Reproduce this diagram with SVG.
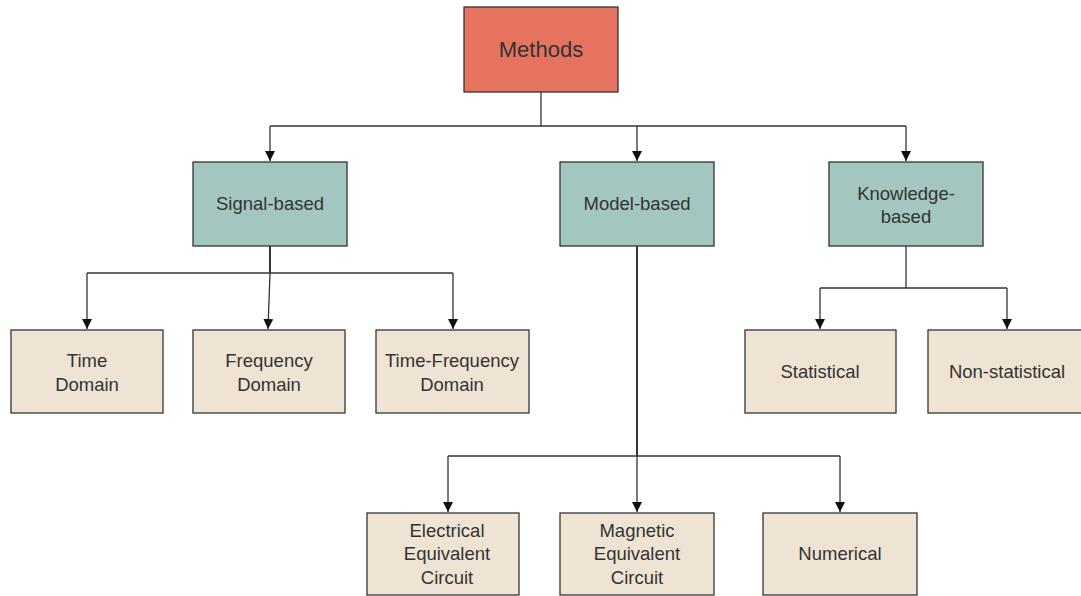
<svg xmlns="http://www.w3.org/2000/svg" width="1081" height="596" viewBox="0 0 1081 596">
  <style>
    .box { stroke: #333; stroke-width: 1.3; }
    .root { fill: #E5735F; }
    .mid { fill: #A3C7C0; }
    .leaf { fill: #EFE4D4; }
    .lbl { font-family: "Liberation Sans", Arial, sans-serif; font-size: 18.5px; fill: #333; text-anchor: middle; dominant-baseline: central; }
    .big { font-size: 22px; }
    .wire { fill: none; stroke: #333; stroke-width: 1.3; }
    .thick { stroke-width: 2; }
  </style>
  <defs>
    <marker id="arrow" viewBox="0 0 10 10" refX="10" refY="5" markerWidth="10" markerHeight="10" markerUnits="userSpaceOnUse" orient="auto">
      <path d="M0,0 L10,5 L0,10 Z" fill="#111"/>
    </marker>
  </defs>
  <rect width="1081" height="596" fill="#fff"/>

  <!-- connectors -->
  <g id="connectors">
    <polyline class="wire" points="541,92 541,126"/>
    <polyline class="wire" points="270,126 906,126"/>
    <polyline class="wire" points="270,126 270,161" marker-end="url(#arrow)"/>
    <polyline class="wire" points="637,126 637,161" marker-end="url(#arrow)"/>
    <polyline class="wire" points="906,126 906,161" marker-end="url(#arrow)"/>

    <polyline class="wire thick" points="270,246 270,273"/>
    <polyline class="wire" points="87,273 453,273"/>
    <polyline class="wire" points="87,273 87,329" marker-end="url(#arrow)"/>
    <polyline class="wire" points="270,273 268,329" marker-end="url(#arrow)"/>
    <polyline class="wire" points="453,273 453,329" marker-end="url(#arrow)"/>

    <polyline class="wire thick" points="637,246 637,456"/>
    <polyline class="wire" points="448,456 840,456"/>
    <polyline class="wire" points="448,456 448,512" marker-end="url(#arrow)"/>
    <polyline class="wire" points="637,456 637,512" marker-end="url(#arrow)"/>
    <polyline class="wire" points="840,456 840,512" marker-end="url(#arrow)"/>

    <polyline class="wire" points="906,246 906,288"/>
    <polyline class="wire" points="820,288 1007,288"/>
    <polyline class="wire" points="820,288 820,329" marker-end="url(#arrow)"/>
    <polyline class="wire" points="1007,288 1007,329" marker-end="url(#arrow)"/>
  </g>

  <!-- nodes -->
  <g id="methods">
    <rect class="box root" x="464" y="7" width="154" height="85"/>
    <text class="lbl big" x="541" y="49">Methods</text>
  </g>
  <g id="signal-based">
    <rect class="box mid" x="193" y="162" width="154" height="84"/>
    <text class="lbl" x="270" y="203">Signal-based</text>
  </g>
  <g id="model-based">
    <rect class="box mid" x="560" y="162" width="154" height="84"/>
    <text class="lbl" x="637" y="203">Model-based</text>
  </g>
  <g id="knowledge-based">
    <rect class="box mid" x="829" y="162" width="154" height="84"/>
    <text class="lbl" x="906" y="193">Knowledge-</text>
    <text class="lbl" x="906" y="216">based</text>
  </g>

  <g id="time-domain">
    <rect class="box leaf" x="11" y="330" width="152" height="83"/>
    <text class="lbl" x="87" y="360">Time</text>
    <text class="lbl" x="87" y="384">Domain</text>
  </g>
  <g id="frequency-domain">
    <rect class="box leaf" x="193" y="330" width="152" height="83"/>
    <text class="lbl" x="269" y="360">Frequency</text>
    <text class="lbl" x="269" y="384">Domain</text>
  </g>
  <g id="time-frequency-domain">
    <rect class="box leaf" x="376" y="330" width="153" height="83"/>
    <text class="lbl" x="452" y="360">Time-Frequency</text>
    <text class="lbl" x="452" y="384">Domain</text>
  </g>

  <g id="statistical">
    <rect class="box leaf" x="745" y="330" width="151" height="83"/>
    <text class="lbl" x="820" y="371">Statistical</text>
  </g>
  <g id="non-statistical">
    <rect class="box leaf" x="928" y="330" width="155" height="83"/>
    <text class="lbl" x="1007" y="371">Non-statistical</text>
  </g>

  <g id="electrical-equivalent-circuit">
    <rect class="box leaf" x="367" y="513" width="152" height="82"/>
    <text class="lbl" x="447" y="530">Electrical</text>
    <text class="lbl" x="447" y="553">Equivalent</text>
    <text class="lbl" x="447" y="577">Circuit</text>
  </g>
  <g id="magnetic-equivalent-circuit">
    <rect class="box leaf" x="560" y="513" width="154" height="82"/>
    <text class="lbl" x="637" y="530">Magnetic</text>
    <text class="lbl" x="637" y="553">Equivalent</text>
    <text class="lbl" x="637" y="577">Circuit</text>
  </g>
  <g id="numerical">
    <rect class="box leaf" x="763" y="513" width="154" height="82"/>
    <text class="lbl" x="840" y="553">Numerical</text>
  </g>
</svg>
